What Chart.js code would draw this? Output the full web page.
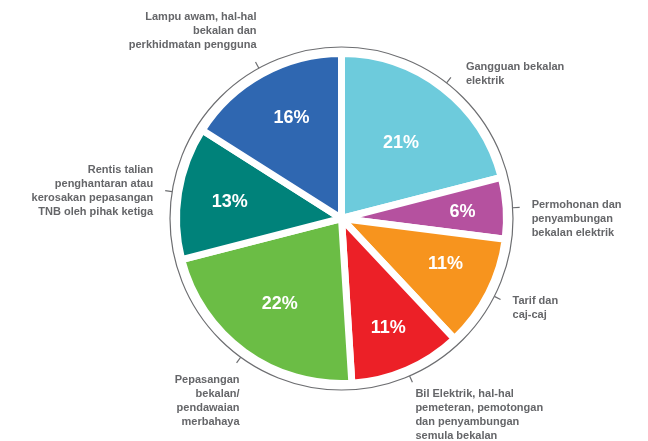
<!DOCTYPE html>
<html>
<head>
<meta charset="utf-8">
<script src="https://cdn.jsdelivr.net/npm/chart.js@4.4.1/dist/chart.umd.min.js"></script>
<style>
  html, body { margin: 0; padding: 0; background: #fff; }
  #wrap { width: 648px; height: 441px; }
</style>
</head>
<body>
<div id="wrap"><canvas id="pieChart" width="648" height="441"></canvas></div>
<script>
// Data
const categories = [
    ['Gangguan bekalan', 'elektrik'],
    ['Permohonan dan', 'penyambungan', 'bekalan elektrik'],
    ['Tarif dan', 'caj-caj'],
    ['Bil Elektrik, hal-hal', 'pemeteran, pemotongan', 'dan penyambungan', 'semula bekalan'],
    ['Pepasangan', 'bekalan/', 'pendawaian', 'merbahaya'],
    ['Rentis talian', 'penghantaran atau', 'kerosakan pepasangan', 'TNB oleh pihak ketiga'],
    ['Lampu awam, hal-hal', 'bekalan dan', 'perkhidmatan pengguna']
];
const shares = [21, 6, 11, 11, 22, 13, 16];
const sliceColors = ['#6dcbdc', '#b5519f', '#f7941e', '#ec2027', '#6bbd45', '#00827a', '#2f67b1'];

// label placement relative to the tick end (style only)
const labelPlace = [
    { dx: 15, dy: -10, align: 'left' },
    { dx: 12, dy: -2, align: 'left' },
    { dx: 12, dy: 1.5, align: 'left' },
    { dx: 3, dy: 11.5, align: 'left' },
    { dx: 3, dy: 17, align: 'right' },
    { dx: -12, dy: -21, align: 'right' },
    { dx: 1, dy: -45, align: 'right' }
];
const pctRadius = [0.6, 0.75, 0.7, 0.73, 0.65, 0.7, 0.7];
const pctTurn = [0, 0, -4, 0, 0, 0, 2.6];

const textGrey = '#656669';

const outerLabels = {
    id: 'outerLabels',
    afterDatasetsDraw(chart) {
        const ctx = chart.ctx;
        const meta = chart.getDatasetMeta(0);
        const first = meta.data[0];
        const cx = first.x, cy = first.y;
        const r = first.outerRadius - 3.5;
        const ringR = r + 10;

        ctx.save();
        // thin grey ring round the pie
        ctx.strokeStyle = '#6d6e71';
        ctx.lineWidth = 1.2;
        ctx.beginPath();
        ctx.arc(cx, cy, ringR, 0, Math.PI * 2);
        ctx.stroke();

        meta.data.forEach((arc, i) => {
            const mid = (arc.startAngle + arc.endAngle) / 2;
            const cos = Math.cos(mid), sin = Math.sin(mid);

            // tick
            const tx = cx + cos * (ringR + 7), ty = cy + sin * (ringR + 7);
            ctx.beginPath();
            ctx.moveTo(cx + cos * ringR, cy + sin * ringR);
            ctx.lineTo(tx, ty);
            ctx.stroke();

            // category text
            const p = labelPlace[i];
            ctx.fillStyle = textGrey;
            ctx.font = 'bold 11px "Liberation Sans", Arial, sans-serif';
            ctx.textAlign = p.align;
            ctx.textBaseline = 'middle';
            categories[i].forEach((line, k) => {
                ctx.fillText(line, tx + p.dx, ty + p.dy + k * 14);
            });

            // percentage inside
            const a = mid + pctTurn[i] * Math.PI / 180;
            const pr = r * pctRadius[i];
            ctx.fillStyle = '#ffffff';
            ctx.font = 'bold 18px "Liberation Sans", Arial, sans-serif';
            ctx.textAlign = 'center';
            ctx.fillText(shares[i] + '%', cx + Math.cos(a) * pr, cy + Math.sin(a) * pr + 1);
        });
        ctx.restore();
    }
};

const ctx = document.getElementById('pieChart').getContext('2d');
new Chart(ctx, {
    type: 'pie',
    data: {
        labels: categories.map(c => c.join(' ')),
        datasets: [{
            data: shares,
            backgroundColor: sliceColors,
            borderColor: '#ffffff',
            borderWidth: 7,
            hoverOffset: 0
        }]
    },
    options: {
        responsive: false,
        animation: false,
        events: [],
        radius: 165,
        layout: { padding: { left: 35, right: 0, top: 0, bottom: 4 } },
        plugins: {
            legend: { display: false },
            tooltip: { enabled: false }
        }
    },
    plugins: [outerLabels]
});
</script>
</body>
</html>
